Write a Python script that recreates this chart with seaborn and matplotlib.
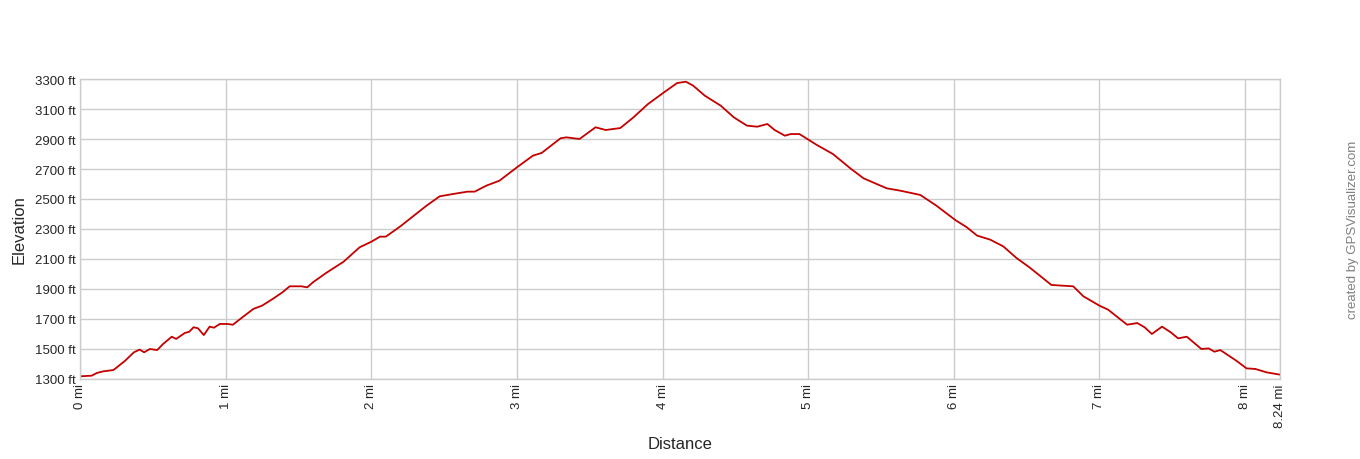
import numpy as np
import pandas as pd
import matplotlib
matplotlib.use("Agg")
import matplotlib.pyplot as plt
import seaborn as sns

# distance along the track (miles) and elevation (feet)
distance_mi = [0.00, 0.08, 0.115, 0.16, 0.23, 0.31, 0.37, 0.41, 0.44, 0.48, 0.53, 0.57, 0.63, 0.66,
               0.72, 0.75, 0.78, 0.81, 0.85, 0.89, 0.92, 0.96, 1.01, 1.05, 1.10, 1.19, 1.25, 1.33,
               1.39, 1.44, 1.52, 1.56, 1.60, 1.69, 1.81, 1.92, 2.00, 2.06, 2.10, 2.20, 2.38, 2.47,
               2.56, 2.66, 2.71, 2.79, 2.88, 3.00, 3.11, 3.17, 3.30, 3.34, 3.43, 3.54, 3.61, 3.71,
               3.80, 3.90, 4.01, 4.10, 4.16, 4.21, 4.29, 4.40, 4.49, 4.58, 4.65, 4.72, 4.77, 4.84,
               4.88, 4.94, 5.06, 5.17, 5.29, 5.38, 5.54, 5.63, 5.77, 5.88, 6.01, 6.09, 6.16, 6.25,
               6.34, 6.43, 6.52, 6.67, 6.75, 6.82, 6.89, 7.00, 7.06, 7.19, 7.26, 7.31, 7.36, 7.43,
               7.49, 7.54, 7.60, 7.70, 7.75, 7.79, 7.83, 7.94, 8.01, 8.07, 8.15, 8.24]
elevation_ft = [1318, 1322, 1340, 1351, 1360, 1422, 1478, 1496, 1478, 1500, 1493, 1533, 1582, 1567,
                1607, 1615, 1645, 1638, 1593, 1649, 1642, 1667, 1667, 1662, 1700, 1767, 1789, 1838,
                1878, 1918, 1918, 1911, 1945, 2007, 2082, 2178, 2215, 2249, 2249, 2318, 2456, 2518,
                2533, 2549, 2549, 2589, 2622, 2711, 2789, 2807, 2905, 2911, 2900, 2978, 2960, 2973,
                3044, 3133, 3211, 3273, 3282, 3256, 3189, 3122, 3044, 2989, 2982, 3000, 2960, 2922,
                2933, 2933, 2860, 2800, 2704, 2638, 2571, 2556, 2527, 2456, 2360, 2311, 2256, 2229,
                2184, 2107, 2044, 1927, 1922, 1918, 1851, 1789, 1762, 1662, 1673, 1645, 1600, 1649,
                1611, 1571, 1582, 1500, 1504, 1482, 1493, 1422, 1371, 1367, 1344, 1329]

x_ticks = [0, 1, 2, 3, 4, 5, 6, 7, 8, 8.24]
x_labels = ["0 mi", "1 mi", "2 mi", "3 mi", "4 mi", "5 mi", "6 mi", "7 mi", "8 mi", "8.24 mi"]
y_ticks = list(range(1300, 3301, 200))
y_labels = [f"{v} ft" for v in y_ticks]

df = pd.DataFrame({"distance": distance_mi, "elevation": elevation_ft})

sns.set_style("white")
plt.rcParams["font.family"] = ["Liberation Sans", "DejaVu Sans"]

fig = plt.figure(figsize=(13.6, 4.6), dpi=100)
ax = fig.add_axes([80 / 1360, 1 - 380 / 460, 1200 / 1360, 300 / 460])

sns.lineplot(data=df, x="distance", y="elevation", ax=ax, color="#c40000", linewidth=1.3)

ax.set_xlim(0, 8.24)
ax.set_ylim(1300, 3300)
ax.set_xticks(x_ticks)
ax.set_xticklabels(x_labels, rotation=90, fontsize=9.5)
ax.set_yticks(y_ticks)
ax.set_yticklabels(y_labels, fontsize=9.5)
ax.tick_params(length=0, pad=3)
ax.grid(True, color="#cccccc", linewidth=1)
for s in ax.spines.values():
    s.set_color("#cccccc")
    s.set_linewidth(1)

ax.set_xlabel("Distance", fontsize=12, labelpad=7)
ax.set_ylabel("Elevation", fontsize=12, labelpad=6)

fig.text(1353 / 1360, 0.5, "created by GPSVisualizer.com", rotation=90,
         ha="center", va="center", fontsize=9.5, color="#808080")

fig.savefig("out.png", dpi=100)
